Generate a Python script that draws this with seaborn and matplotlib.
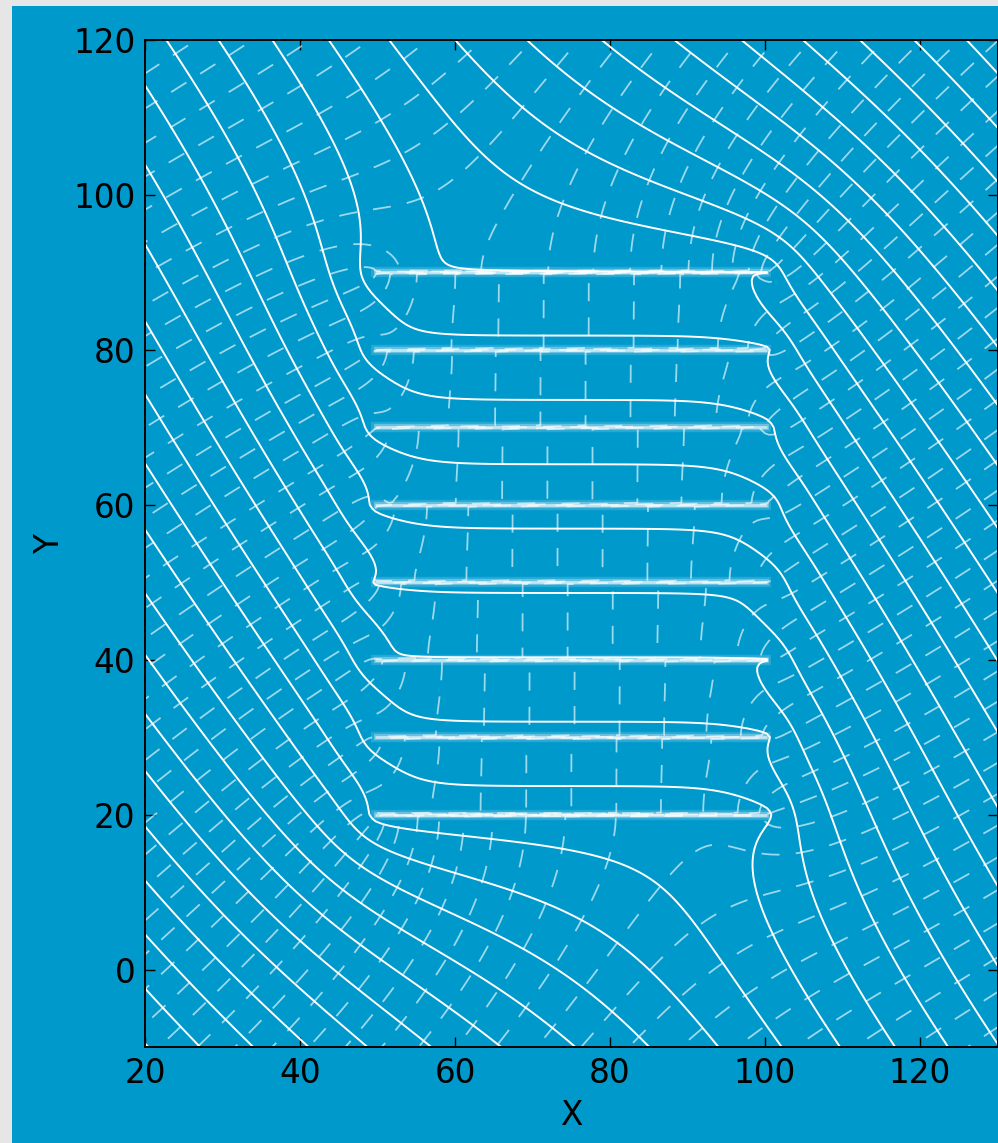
import numpy as np
import matplotlib
matplotlib.use("Agg")
import matplotlib.pyplot as plt
import seaborn as sns
from matplotlib.patches import Rectangle

# ---------------- data ----------------
plate_y = [20, 30, 40, 50, 60, 70, 80, 90]      # horizontal plates
plate_x = [50, 100]                              # plate extent in x
flow_angle_deg = 53.0                            # far-field flow, below horizontal
flow_speed = 1.0
psi_step = 5.0                                   # stream-line spacing (solid)
phi_step = 3.5                                   # equipotential spacing (dashed)
x_ticks = [20, 40, 60, 80, 100, 120]
y_ticks = [0, 20, 40, 60, 80, 100, 120]
x_lim = (20, 130)
y_lim = (-10, 120)

# ---------------- potential flow solve ----------------
h = 0.5
xs = np.arange(-40.0, 190.0 + h / 2, h)
ys = np.arange(-60.25, 170.0, h)
nx, ny = len(xs), len(ys)
X, Y = np.meshgrid(xs, ys)
th = np.deg2rad(flow_angle_deg)
U = flow_speed * np.array([np.cos(th), -np.sin(th)])

wy = np.ones((ny - 1, nx))
ymid = ys[:-1] + h / 2
for py in plate_y:
    j = np.argmin(np.abs(ymid - py))
    sel = (xs >= plate_x[0] - 1e-9) & (xs <= plate_x[1] + 1e-9)
    wy[j, sel] = 0.0

interior = np.zeros((ny, nx))
interior[1:-1, 1:-1] = 1.0


def lap(p):
    out = np.zeros_like(p)
    dx = p[:, 1:] - p[:, :-1]
    out[:, :-1] -= dx
    out[:, 1:] += dx
    dy = (p[1:, :] - p[:-1, :]) * wy
    out[:-1, :] -= dy
    out[1:, :] += dy
    return out


phi = U[0] * X + U[1] * Y
b = -lap(phi) * interior
x = np.zeros_like(phi)
r = b.copy()
p = r.copy()
rs = np.vdot(r, r)
b_norm = np.sqrt(rs)
for it in range(5000):
    Ap = lap(p * interior) * interior
    alpha = rs / np.vdot(p, Ap)
    x += alpha * p
    r -= alpha * Ap
    rs_new = np.vdot(r, r)
    if np.sqrt(rs_new) < 1e-8 * b_norm:
        break
    p = r + (rs_new / rs) * p
    rs = rs_new
phi = phi + x * interior

# stream function on dual grid
Fx = phi[:, 1:] - phi[:, :-1]
Fy = wy * (phi[1:, :] - phi[:-1, :])
psi_row0 = np.concatenate([[0.0], -np.cumsum(Fy[0, 1:nx - 1])])
psi = psi_row0[None, :] + np.concatenate(
    [np.zeros((1, nx - 1)), np.cumsum(Fx[1:ny - 1, :], axis=0)], axis=0)
xd = xs[:-1] + h / 2
yd = ys[:-1] + h / 2

# restrict to view
mx = (xs >= x_lim[0] - 2) & (xs <= x_lim[1] + 2)
my = (ys >= y_lim[0] - 2) & (ys <= y_lim[1] + 2)
phi_v = phi[np.ix_(my, mx)]
xs_v, ys_v = xs[mx], ys[my]
mxd = (xd >= x_lim[0] - 2) & (xd <= x_lim[1] + 2)
myd = (yd >= y_lim[0] - 2) & (yd <= y_lim[1] + 2)
psi_v = psi[np.ix_(myd, mxd)]
xd_v, yd_v = xd[mxd], yd[myd]

# reference points for level phase
ipx = np.argmin(np.abs(xd_v - 22.6)); ipy = np.argmin(np.abs(yd_v - 120.0))
psi_ref = psi_v[ipy, ipx]
psi_levels = psi_ref + psi_step * np.arange(
    np.floor((psi_v.min() - psi_ref) / psi_step), np.ceil((psi_v.max() - psi_ref) / psi_step) + 1)
phi_ref = phi_v[np.argmin(np.abs(ys_v - 110)), np.argmin(np.abs(xs_v - 25))]
phi_levels = phi_ref + phi_step * np.arange(
    np.floor((phi_v.min() - phi_ref) / phi_step), np.ceil((phi_v.max() - phi_ref) / phi_step) + 1)

# ---------------- plotting ----------------
sns.set_style("ticks")
plt.rcParams["font.family"] = ["DejaVu Sans"]
blue = "#0099cc"

W, H = 998, 1143
fig = plt.figure(figsize=(W / 100, H / 100), dpi=100, facecolor=blue)
fig.patches.append(Rectangle((0, 0), 12 / W, 1, transform=fig.transFigure,
                             facecolor="#e6e6e6", edgecolor="none", zorder=-1))
fig.patches.append(Rectangle((0, 1 - 6 / H), 1, 6 / H, transform=fig.transFigure,
                             facecolor="#e6e6e6", edgecolor="none", zorder=-1))

left, right, top, bottom = 145, 997.5, 40, 1047
ax = fig.add_axes([left / W, 1 - bottom / H, (right - left) / W, (bottom - top) / H])
ax.set_facecolor(blue)

cs_phi = ax.contour(xs_v, ys_v, phi_v, levels=phi_levels, colors="white",
                    linewidths=1.3, alpha=0.62)
cs_phi.set_linestyle((0, (10, 9)))
ax.contour(xd_v, yd_v, psi_v, levels=psi_levels, colors="white", linewidths=1.4)

# plates (fuzzy bars)
ax.hlines(plate_y, plate_x[0] - 0.8, plate_x[1] + 0.8, colors="white",
          linewidth=7.5, alpha=0.15)
ax.hlines(plate_y, plate_x[0] - 0.5, plate_x[1] + 0.5, colors="white",
          linewidth=4.5, alpha=0.3)
ax.hlines(plate_y, plate_x[0] - 0.3, plate_x[1] + 0.3, colors="white",
          linewidth=2.0, alpha=0.6)

ax.set_xlim(*x_lim)
ax.set_ylim(*y_lim)
ax.set_xticks(x_ticks)
ax.set_yticks(y_ticks)
ax.tick_params(direction="in", length=7, width=1, labelsize=23.5, colors="black",
               top=True, right=True, pad=7)
for s in ax.spines.values():
    s.set_color("black")
    s.set_linewidth(1.4)
ax.set_xlabel("X", fontsize=23.5, color="black")
ax.set_ylabel("Y", fontsize=23.5, color="black")
ax.xaxis.set_label_coords(0.5, -0.052)
ax.yaxis.set_label_coords(-0.093, 0.5)

fig.savefig("out.png", dpi=100, facecolor=blue)
